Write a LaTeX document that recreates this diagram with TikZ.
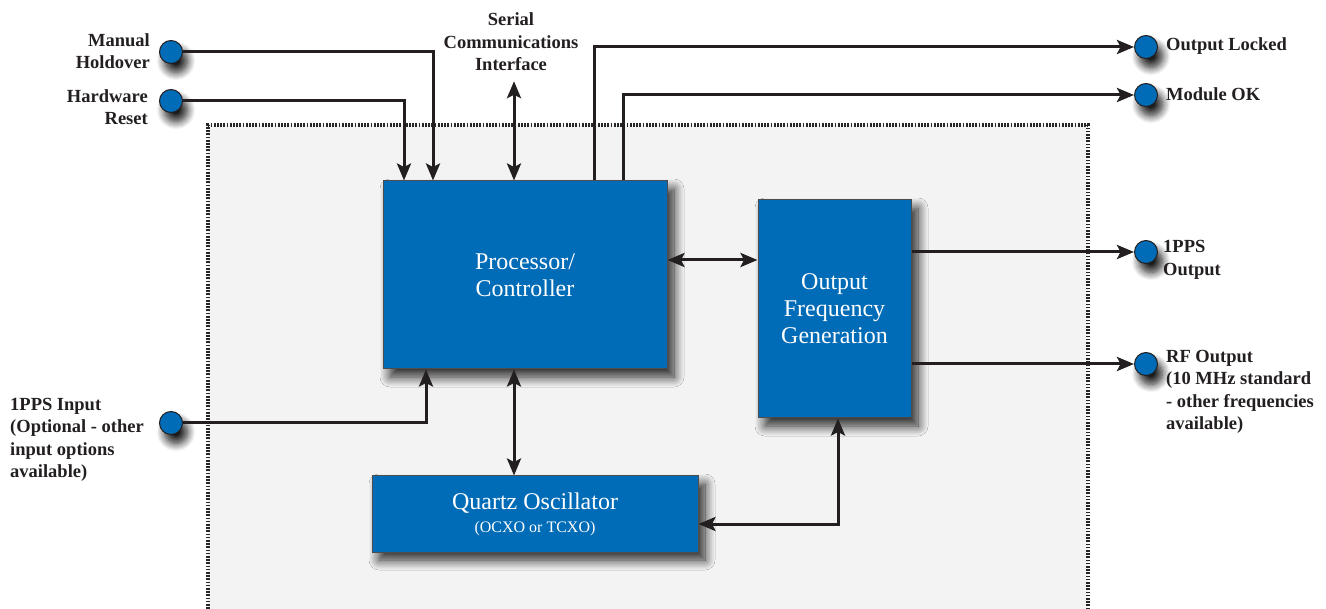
\documentclass[tikz,border=0pt]{standalone}
\usepackage{fontspec}
\setmainfont{Liberation Serif}
\usetikzlibrary{arrows.meta,shadows.blur,calc}
\definecolor{blk}{HTML}{006BB6}
\definecolor{ink}{HTML}{231F20}
\definecolor{panel}{HTML}{F3F3F3}
\tikzset{
  tip/.tip={Stealth[length=17pt,width=14pt,inset=3.5pt]},
  blockbox/.style={draw=ink!80,line width=1pt,fill=blk,text=white,align=center,inner sep=0pt,
    font=\fontsize{24}{27}\selectfont,
    blur shadow={shadow xshift=7pt,shadow yshift=-8pt,shadow blur radius=10pt,shadow opacity=85,shadow blur steps=12}},
  port/.style={circle,draw=ink,line width=1pt,fill=blk,minimum size=23pt,inner sep=0pt,
    blur shadow={shadow xshift=5pt,shadow yshift=-9pt,shadow blur radius=8pt,shadow opacity=90,shadow blur steps=10}},
  lbl/.style={font=\fontsize{18.5}{22.5}\selectfont\bfseries,text=ink,inner sep=0pt},
  conn/.style={draw=ink,line width=3pt,-tip},
  bconn/.style={draw=ink,line width=3pt,tip-tip}
}
\begin{document}
\begin{tikzpicture}[x=1pt,y=-1pt]
\useasboundingbox (0,0) rectangle (1326,609);
% panel
\fill[panel] (208,125) rectangle (1088,612);
\draw[black!85,line width=3.4pt,dash pattern=on 1.7pt off 1.5pt] (208,612) -- (208,125) -- (1088,125) -- (1088,612);
% blocks
\node[blockbox,minimum width=284pt,minimum height=188pt] (proc) at (525,275) {Processor/\\Controller};
\node[blockbox,minimum width=153pt,minimum height=218pt] (ofg) at (834.5,309) {Output\\Frequency\\Generation};
\node[blockbox,minimum width=326pt,minimum height=76pt] (qo) at (535,514) {Quartz Oscillator\\[-4pt]{\fontsize{16}{18}\selectfont (OCXO or TCXO)}};
% ports
\node[port] (mh) at (171,52) {};
\node[port] (hr) at (171,101) {};
\node[port] (pin) at (171,423) {};
\node[port] (ol) at (1146,47) {};
\node[port] (mok) at (1146,95) {};
\node[port] (pout) at (1146,252) {};
\node[port] (rf) at (1146,364) {};
% labels
\node[lbl,align=right,anchor=east] (lmh) at (150,51) {Manual\\Holdover};
\node[lbl,align=right,anchor=east] (lhr) at (148,107) {Hardware\\Reset};
\node[lbl,align=center] (lsc) at (511,42) {Serial\\Communications\\Interface};
\node[lbl,align=left,anchor=west] (lol) at (1166,46) {Output Locked};
\node[lbl,align=left,anchor=west] (lmok) at (1166,94) {Module OK};
\node[lbl,align=left,anchor=west] (lpout) at (1163,260) {1PPS\\Output};
\node[lbl,align=left,anchor=west] (lrf) at (1166,392) {RF Output\\(10 MHz standard\\- other frequencies\\available)};
\node[lbl,align=left,anchor=west] (lpin) at (10,440) {1PPS Input\\(Optional - other\\input options\\available)};
% connectors
\draw[conn] (mh.east) -| (433,0 |- proc.north);
\draw[conn] (hr.east) -| (404,0 |- proc.north);
\draw[bconn] (lsc.south -| 514,0) ++(0,10) -- (514,0 |- proc.north);
\draw[conn] (594,0 |- proc.north) |- (ol.west);
\draw[conn] (623,0 |- proc.north) |- (mok.west);
\draw[bconn] (proc.east |- 0,260) -- (ofg.west |- 0,260);
\draw[conn] (ofg.east |- pout.west) -- (pout.west);
\draw[conn] (ofg.east |- rf.west) -- (rf.west);
\draw[conn] (pin.east) -| (426,0 |- proc.south);
\draw[bconn] (514,0 |- proc.south) -- (514,0 |- qo.north);
\draw[bconn] (838,0 |- ofg.south) |- (qo.east |- 0,524);
\end{tikzpicture}
\end{document}
